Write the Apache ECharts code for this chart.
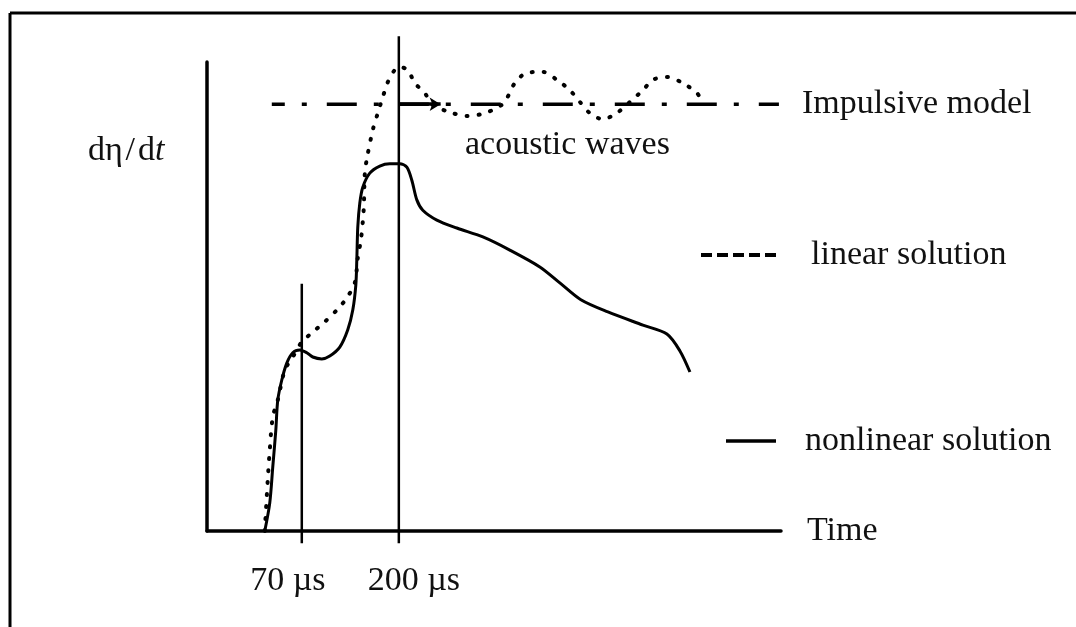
<!DOCTYPE html>
<html>
<head>
<meta charset="utf-8">
<script src="https://cdn.jsdelivr.net/npm/echarts@6/dist/echarts.min.js"></script>
<style>
html,body{margin:0;padding:0;background:#fff;}
#chart{width:1076px;height:627px;}
</style>
</head>
<body>
<div id="chart"></div>
<script>
// ---- data (time in µs, response in arbitrary units 0..100) ----
var tickValues = [70, 200];
var tickLabels = ['70 µs', '200 µs'];
var seriesNames = ['Impulsive model', 'linear solution', 'nonlinear solution'];

var impulsiveModel = [[29.8, 91], [709.2, 91]];

var linearSolution = [
  [20.4, 0], [24.4, 10.9], [27.1, 17.3], [31.1, 24.3], [37.8, 27.9], [47.2, 34.3],
  [57.9, 37.1], [70.0, 40.3], [84.7, 42.4], [100.8, 44.6], [116.9, 47.1], [130.3, 49.7],
  [141.0, 52.9], [145.0, 58.2], [149.1, 62.0], [151.7, 65.9], [153.1, 69.1], [154.4, 76.1],
  [157.1, 79.3], [165.1, 85.5], [171.8, 89.1], [178.5, 92.5], [185.2, 95.7], [194.6, 98.3],
  [201.3, 98.9], [212.0, 98.3], [221.4, 95.5], [234.8, 93.4], [244.2, 91.0], [268.3, 89.3],
  [291.1, 88.5], [311.2, 88.9], [331.3, 90.2], [342.0, 91.5], [355.4, 95.5], [371.5, 97.7],
  [392.9, 97.9], [411.7, 96.2], [429.1, 94.0], [442.5, 91.5], [455.9, 89.1], [473.4, 87.8],
  [493.5, 89.3], [509.6, 91.5], [527.0, 94.0], [540.4, 96.2], [559.1, 96.8], [580.6, 95.5],
  [599.3, 93.4], [603.4, 92.5]
];

var nonlinearSolution = [
  [20.4, 0], [27.1, 6.0], [31.1, 13.6], [35.2, 21.5], [37.8, 27.9], [43.2, 32.2],
  [49.9, 35.8], [57.9, 38.0], [67.3, 38.6], [76.7, 38.0], [84.7, 37.1], [96.8, 36.7],
  [107.5, 37.3], [120.9, 39.2], [131.6, 42.9], [138.3, 47.1], [142.4, 52.5], [143.7, 57.8],
  [145.0, 64.8], [147.7, 69.9], [151.7, 73.3], [161.1, 76.3], [174.5, 77.8], [187.9, 78.3],
  [201.3, 78.3], [210.7, 77.6], [217.4, 74.8], [224.1, 70.6], [232.1, 68.4], [250.9, 66.3],
  [277.7, 64.6], [312.6, 62.7], [348.7, 59.9], [388.9, 56.3], [415.7, 52.9], [443.9, 49.3],
  [480.1, 46.7], [527.0, 43.9], [559.1, 42.0], [576.6, 38.4], [590.0, 33.9]
];

// vertical time markers: [time, bottom (tick below axis), top]
var marker70 = [[70, -2.6], [70, 52.7]];
var marker200 = [[200, -2.6], [200, 105.5]];
var arrowSpan = [200, 256];
var arrowLevel = 91;

// ---- chart ----
var FONT = '"Liberation Serif", "DejaVu Serif", serif';
var chart = echarts.init(document.getElementById('chart'), null, {renderer: 'canvas'});

var legendText = function (pad) {
  return {fontFamily: FONT, fontSize: 34, color: '#111', lineHeight: 40, padding: pad};
};
var tickLabelMark = function (value, text, dx) {
  return {
    silent: true, symbol: 'circle', symbolSize: 0,
    label: {show: true, position: 'inside', offset: [dx, 50], formatter: text,
            fontFamily: FONT, fontSize: 34, color: '#111'},
    data: [{coord: [value, 0]}]
  };
};

var option = {
  backgroundColor: '#fff',
  animation: false,
  grid: {left: 207, right: 295, top: 62, bottom: 96, containLabel: false},
  xAxis: {
    type: 'value', min: -57, max: 712,
    splitLine: {show: false},
    axisLine: {show: true, onZero: false, lineStyle: {color: '#000', width: 3.5}},
    axisTick: {show: false},
    axisLabel: {show: false},
    name: 'Time', nameLocation: 'end', nameGap: 26,
    nameTextStyle: {fontFamily: FONT, fontSize: 34, color: '#111', lineHeight: 40,
                    align: 'left', verticalAlign: 'middle', padding: [40, 0, 0, 0]}
  },
  yAxis: {
    type: 'value', min: 0, max: 100,
    splitLine: {show: false},
    axisLine: {show: true, onZero: false, lineStyle: {color: '#000', width: 3.5}},
    axisTick: {show: false},
    axisLabel: {show: false}
  },
  legend: [
    {left: 787, top: 75, padding: 0, itemWidth: 10, itemHeight: 4, selectedMode: false,
     data: [{name: seriesNames[0], icon: 'none'}], textStyle: legendText([0, 0, 18, 0])},
    {left: 701, top: 230, padding: 0, itemWidth: 77, itemHeight: 4, selectedMode: false,
     itemStyle: {color: '#000'},
     data: [{name: seriesNames[1],
             icon: 'path://M0,0h11v4h-11zM16,0h11v4h-11zM32,0h11v4h-11zM48,0h11v4h-11zM64,0h11v4h-11z'}],
     textStyle: legendText([10, 0, 0, 29])},
    {left: 726, top: 412, padding: 0, itemWidth: 50, itemHeight: 3.5, selectedMode: false,
     itemStyle: {color: '#000'},
     data: [{name: seriesNames[2], icon: 'rect'}], textStyle: legendText([0, 0, 18, 24])}
  ],
  graphic: [
    {type: 'line', shape: {x1: 10, y1: 13, x2: 1076, y2: 13}, style: {stroke: '#000', lineWidth: 3}},
    {type: 'line', shape: {x1: 10, y1: 13, x2: 10, y2: 627}, style: {stroke: '#000', lineWidth: 3}},
    {type: 'text', left: 88, top: 134,
     style: {text: '{n|dη\u200a/\u200ad}{i|t}', rich: {
       n: {fontFamily: FONT, fontSize: 34, fill: '#111'},
       i: {fontFamily: FONT, fontSize: 34, fontStyle: 'italic', fill: '#111'}}}},
    {type: 'text', left: 465, top: 128,
     style: {text: 'acoustic waves', fontFamily: FONT, fontSize: 34, fill: '#111'}}
  ],
  series: [
    {
      name: seriesNames[0], type: 'line', data: impulsiveModel, symbol: 'none', silent: true,
      color: '#000',
      lineStyle: {color: '#000', width: 3.5, type: [30, 17, 5, 20], dashOffset: 17, cap: 'butt'},
      markLine: {
        silent: true, symbol: ['none', 'arrow'], symbolSize: [10, 11],
        label: {show: false},
        lineStyle: {color: '#000', width: 3.5, type: 'solid'},
        data: [[{coord: [arrowSpan[0], arrowLevel]}, {coord: [arrowSpan[1], arrowLevel]}]]
      }
    },
    {
      name: seriesNames[1], type: 'line', data: linearSolution, symbol: 'none', silent: true,
      smooth: 0.3, color: '#000',
      lineStyle: {color: '#000', width: 4, type: [1, 11], cap: 'round'}
    },
    {
      name: seriesNames[2], type: 'line', data: nonlinearSolution, symbol: 'none', silent: true,
      smooth: 0.3, color: '#000',
      lineStyle: {color: '#000', width: 3}
    },
    {
      name: 't70', type: 'line', data: marker70, symbol: 'none', silent: true, clip: false,
      color: '#000', lineStyle: {color: '#000', width: 2.5},
      markPoint: tickLabelMark(tickValues[0], tickLabels[0], -14)
    },
    {
      name: 't200', type: 'line', data: marker200, symbol: 'none', silent: true, clip: false,
      color: '#000', lineStyle: {color: '#000', width: 2.5},
      markPoint: tickLabelMark(tickValues[1], tickLabels[1], 15)
    }
  ]
};
chart.setOption(option);
</script>
</body>
</html>
